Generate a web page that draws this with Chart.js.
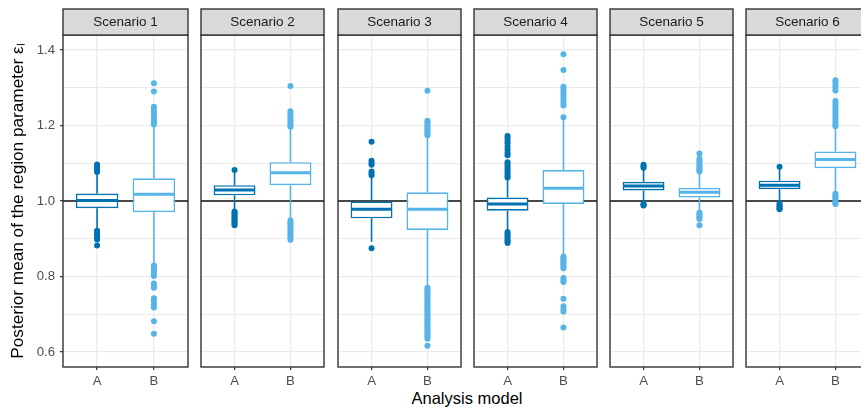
<!DOCTYPE html>
<html>
<head>
<meta charset="utf-8">
<script src="https://cdn.jsdelivr.net/npm/chart.js@4.4.1/dist/chart.umd.min.js"></script>
<style>
body { margin: 0; width: 861px; height: 410px; overflow: hidden; background: #fff; position: relative; font-family: 'Liberation Sans', Arial, sans-serif; }
canvas { position: absolute; top: 0; }
#xtitle { position: absolute; top: 389px; left: 0; width: 934px; text-align: center; font-size: 16.5px; color: #000; }
</style>
</head>
<body>
<div id="xtitle">Analysis model</div>
<script>
var scenarios = ['Scenario 1', 'Scenario 2', 'Scenario 3', 'Scenario 4', 'Scenario 5', 'Scenario 6'];
var models = ['A', 'B'];
var yTicks = [0.6, 0.8, 1.0, 1.2, 1.4];
var yMinor = [0.7, 0.9, 1.1, 1.3];
var refLine = 1.0;

// model A, one value per scenario
var lowA  = [0.925, 0.977, 0.892, 0.922, 0.996, 0.998];
var q1A   = [0.981, 1.015, 0.954, 0.974, 1.028, 1.031];
var medA  = [1.001, 1.029, 0.978, 0.992, 1.040, 1.042];
var q3A   = [1.020, 1.042, 0.999, 1.009, 1.051, 1.054];
var highA = [1.072, 1.075, 1.065, 1.058, 1.082, 1.085];
var outA = [
    [1.097, 1.093, 1.084, 1.080, 1.077, 0.921, 0.916, 0.910, 0.904, 0.898, 0.882],
    [1.082, 0.972, 0.968, 0.964, 0.960, 0.956, 0.952, 0.948, 0.944, 0.940, 0.936],
    [1.157, 1.107, 1.101, 1.096, 1.078, 1.073, 1.068, 0.875],
    [1.172, 1.166, 1.159, 1.153, 1.144, 1.136, 1.128, 1.121, 1.103, 1.097, 1.091, 1.085, 1.079, 1.073, 1.067, 1.062,
     0.918, 0.913, 0.908, 0.903, 0.898, 0.893, 0.889],
    [1.096, 1.092, 1.088, 0.993, 0.990, 0.988],
    [1.091, 0.994, 0.989, 0.985, 0.981, 0.978]
];

// model B
var lowB  = [0.835, 0.955, 0.775, 0.858, 0.972, 1.024];
var q1B   = [0.970, 1.042, 0.923, 0.992, 1.009, 1.087];
var medB  = [1.018, 1.075, 0.978, 1.034, 1.023, 1.110];
var q3B   = [1.060, 1.103, 1.023, 1.082, 1.035, 1.131];
var highB = [1.198, 1.190, 1.170, 1.215, 1.073, 1.195];
var outB = [
    [1.312, 1.290, 1.250, 1.244, 1.237, 1.228, 1.221, 1.214, 1.208, 1.203,
     0.829, 0.824, 0.819, 0.815, 0.808, 0.801, 0.781, 0.775, 0.770, 0.742, 0.735, 0.726, 0.718, 0.681, 0.648],
    [1.305, 1.238, 1.232, 1.226, 1.220, 1.214, 1.208, 1.202, 1.197,
     0.948, 0.943, 0.938, 0.932, 0.927, 0.921, 0.915, 0.909, 0.903, 0.897],
    [1.292, 1.213, 1.208, 1.203, 1.198, 1.193, 1.188, 1.183, 1.178, 1.174,
     0.770, 0.765, 0.760, 0.755, 0.750, 0.745, 0.740, 0.735, 0.730, 0.725, 0.720, 0.715, 0.710, 0.705, 0.700,
     0.695, 0.690, 0.685, 0.680, 0.675, 0.670, 0.665, 0.660, 0.655, 0.650, 0.645, 0.640, 0.635, 0.616],
    [1.389, 1.347, 1.303, 1.297, 1.290, 1.283, 1.275, 1.268, 1.260, 1.253, 1.222,
     0.853, 0.849, 0.845, 0.841, 0.837, 0.832, 0.827, 0.822, 0.796, 0.790, 0.785, 0.741, 0.721, 0.714, 0.707, 0.665],
    [1.126, 1.112, 1.107, 1.102, 1.097, 1.092, 1.087, 1.082, 1.078, 0.969, 0.965, 0.960, 0.956, 0.952, 0.936],
    [1.320, 1.314, 1.307, 1.300, 1.293, 1.265, 1.258, 1.251, 1.244, 1.237, 1.230, 1.223, 1.216, 1.209, 1.203, 1.198,
     1.019, 1.015, 1.010, 1.005, 1.000, 0.996, 0.992]
];

var colA = '#0072B2';
var colB = '#56B4E9';
var FONT = "'Liberation Sans', Arial, sans-serif";
var panelLeft = [63, 199, 336, 472, 608, 744];
var panelW = 127;

function facetPlugin(i) {
    var stats = [
        { lo: lowA[i], q3: q3A[i], q1: q1A[i], med: medA[i], hi: highA[i], col: colA },
        { lo: lowB[i], q3: q3B[i], q1: q1B[i], med: medB[i], hi: highB[i], col: colB }
    ];
    return {
        id: 'facet' + i,
        beforeDatasetsDraw: function (chart) {
            var c = chart.ctx, a = chart.chartArea, ys = chart.scales.y, xs = chart.scales.x;
            c.save();
            // reference line
            var yr = ys.getPixelForValue(refLine);
            c.strokeStyle = '#111';
            c.lineWidth = 1.4;
            c.beginPath();
            c.moveTo(a.left, yr);
            c.lineTo(a.right, yr);
            c.stroke();
            // whiskers
            stats.forEach(function (s, k) {
                var x = xs.getPixelForValue(k + 1);
                c.strokeStyle = s.col;
                c.lineWidth = 1.6;
                c.beginPath();
                c.moveTo(x, ys.getPixelForValue(s.q3));
                c.lineTo(x, ys.getPixelForValue(s.hi));
                c.moveTo(x, ys.getPixelForValue(s.q1));
                c.lineTo(x, ys.getPixelForValue(s.lo));
                c.stroke();
            });
            c.restore();
        },
        afterDatasetsDraw: function (chart) {
            var c = chart.ctx, ys = chart.scales.y;
            var bars = chart.getDatasetMeta(2).data;
            c.save();
            stats.forEach(function (s, k) {
                var b = bars[k];
                var y = ys.getPixelForValue(s.med);
                c.strokeStyle = s.col;
                c.lineWidth = 3;
                c.beginPath();
                c.moveTo(b.x - b.width / 2 + 1, y);
                c.lineTo(b.x + b.width / 2 - 1, y);
                c.stroke();
            });
            c.restore();
        },
        afterDraw: function (chart) {
            var c = chart.ctx, a = chart.chartArea;
            c.save();
            c.strokeStyle = '#333333';
            c.lineWidth = 1.4;
            c.strokeRect(a.left, a.top, a.right - a.left, a.bottom - a.top);
            c.fillStyle = '#D9D9D9';
            c.fillRect(a.left, 9, a.right - a.left, a.top - 9);
            c.strokeRect(a.left, 9, a.right - a.left, a.top - 9);
            c.fillStyle = '#1A1A1A';
            c.font = '13.5px ' + FONT;
            c.textAlign = 'center';
            c.textBaseline = 'middle';
            c.fillText(scenarios[i], (a.left + a.right) / 2, (9 + a.top) / 2 + 0.5);
            c.restore();
        }
    };
}

scenarios.forEach(function (name, i) {
    var first = i === 0;
    var cv = document.createElement('canvas');
    var left = first ? 0 : panelLeft[i] - 2;
    cv.width = first ? panelLeft[0] + panelW + 2 : panelW + 4;
    cv.height = 410;
    cv.style.left = left + 'px';
    document.body.appendChild(cv);

    new Chart(cv, {
        type: 'bar',
        data: {
            datasets: [{
                type: 'scatter',
                data: outA[i].map(function (v) { return { x: 1, y: v }; }),
                backgroundColor: colA,
                borderWidth: 0,
                pointRadius: 3
            }, {
                type: 'scatter',
                data: outB[i].map(function (v) { return { x: 2, y: v }; }),
                backgroundColor: colB,
                borderWidth: 0,
                pointRadius: 3
            }, {
                type: 'bar',
                data: [{ x: 1, y: [q1A[i], q3A[i]] }, { x: 2, y: [q1B[i], q3B[i]] }],
                backgroundColor: '#fff',
                borderColor: [colA, colB],
                borderWidth: 1.7,
                borderSkipped: false,
                barPercentage: 0.75,
                categoryPercentage: 1
            }]
        },
        options: {
            responsive: false,
            animation: false,
            devicePixelRatio: 1,
            layout: { padding: { top: 35, left: first ? 0 : 2, right: 2, bottom: 0 } },
            plugins: { legend: { display: false }, tooltip: { enabled: false } },
            scales: {
                x: {
                    type: 'linear',
                    min: 0.4,
                    max: 2.6,
                    offset: false,
                    afterBuildTicks: function (s) { s.ticks = models.map(function (m, k) { return { value: k + 1 }; }); },
                    afterFit: function (s) { s.height = 43; },
                    ticks: {
                        callback: function (v) { return models[v - 1]; },
                        color: '#4D4D4D',
                        font: { family: FONT, size: 13.2 },
                        padding: 3,
                        maxRotation: 0,
                        autoSkip: false
                    },
                    grid: { offset: false, color: '#EBEBEB', lineWidth: 1.3, tickColor: '#333333', tickLength: 3, tickWidth: 1.2 },
                    border: { display: false }
                },
                y: {
                    type: 'linear',
                    min: 0.56,
                    max: 1.44,
                    afterBuildTicks: function (s) {
                        s.ticks = yTicks.concat(yMinor).sort(function (a, b) { return a - b; })
                            .map(function (v) { return { value: v }; });
                    },
                    afterFit: function (s) { s.width = first ? panelLeft[0] : 0; },
                    ticks: {
                        display: first,
                        callback: function (v) { return yTicks.indexOf(v) >= 0 ? v.toFixed(1) : ''; },
                        color: '#4D4D4D',
                        font: { family: FONT, size: 13.2 },
                        padding: 5
                    },
                    grid: {
                        color: '#EBEBEB',
                        lineWidth: function (c) { return yTicks.indexOf(c.tick.value) >= 0 ? 1.3 : 1; },
                        drawTicks: first,
                        tickLength: 3,
                        tickWidth: 1.2,
                        tickColor: function (c) { return yTicks.indexOf(c.tick.value) >= 0 ? '#333333' : 'rgba(0,0,0,0)'; }
                    },
                    border: { display: false },
                    title: {
                        display: first,
                        text: 'Posterior mean of the region parameter εₗ',
                        color: '#000',
                        font: { family: FONT, size: 17.2 },
                        padding: { top: 8, bottom: 0 }
                    }
                }
            }
        },
        plugins: [facetPlugin(i)]
    });
});
</script>
</body>
</html>
